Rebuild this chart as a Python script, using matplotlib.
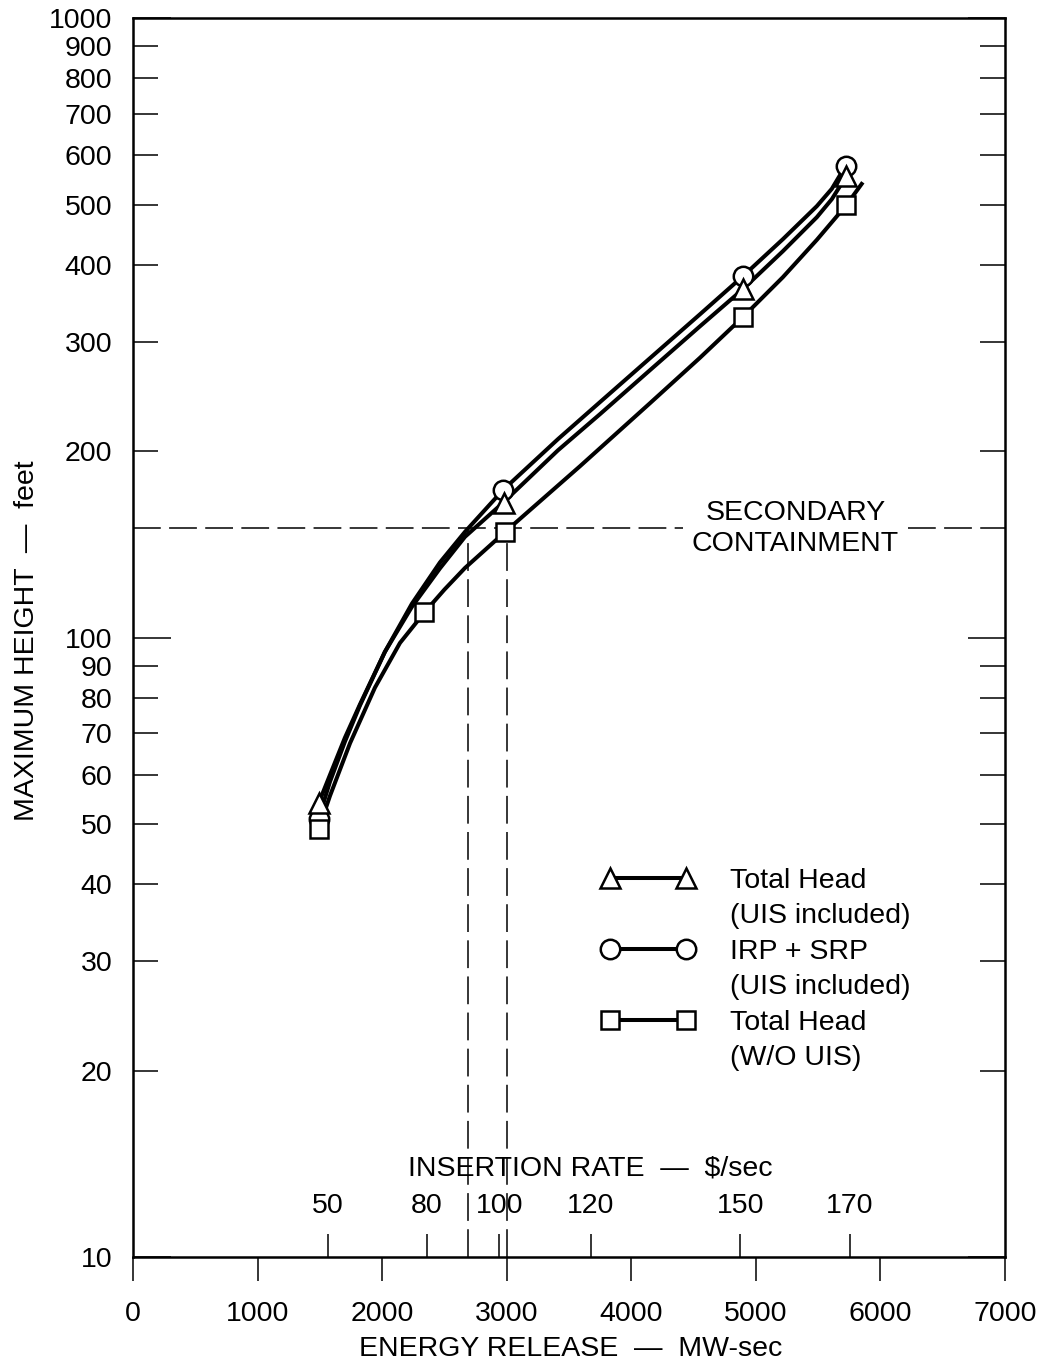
import matplotlib
matplotlib.use('Agg')
import matplotlib.pyplot as plt
from matplotlib.lines import Line2D
from matplotlib.ticker import FixedLocator, FuncFormatter

# ---- data ----
# measured points (energy release MW-sec, max height ft)
tri_x = [1490, 2975, 4900, 5725]
tri_y = [54, 165, 365, 555]
circ_x = [1490, 2970, 4900, 5720]
circ_y = [51, 173, 383, 577]
sq_x = [1490, 2340, 2985, 4900, 5725]
sq_y = [49, 110, 148, 329, 500]

# faired curves through the points
circ_cx = [1490, 1581, 1701, 1822, 2022, 2239, 2464, 2665, 2970, 3411, 3748, 4149,
           4551, 4896, 5217, 5490, 5610, 5720]
circ_cy = [51, 58.5, 67.9, 77.7, 94.8, 113.4, 132.2, 148.1, 173, 209, 239.8, 282.3,
           332.4, 383, 439.5, 497, 530, 577]
tri_cx = [1490, 1581, 1701, 1822, 2022, 2239, 2464, 2665, 2970, 3411, 3748, 4149,
          4551, 4896, 5217, 5490, 5610, 5725]
tri_cy = [54, 60.0, 68.9, 78.0, 94.8, 112.1, 129.3, 145.4, 165, 200.5, 229.3, 270,
          317.9, 365, 420.3, 477, 510, 555]
sq_cx = [1490, 1581, 1742, 1942, 2143, 2343, 2500, 2665, 2986, 3588, 4149, 4551,
         4896, 5217, 5490, 5727, 5859]
sq_cy = [49, 55.5, 67.5, 83.0, 98.0, 110.0, 119.5, 129.5, 148, 189, 238.8, 282.8,
         329, 381.6, 438.5, 499, 543]

# secondary scale: insertion rate ($/sec) vs energy release
ins_energy = [1565, 2357, 2941, 3677, 4875, 5755]
ins_rate = ['50', '80', '100', '120', '150', '170']

# secondary containment line and the two crossing energies
containment_ft = 150
containment_gap = [4414, 6220]
crossing_energy = [2690, 3000]

x_ticks = [0, 1000, 2000, 3000, 4000, 5000, 6000, 7000]
y_major = [10, 100, 1000]
y_minor = [20, 30, 40, 50, 60, 70, 80, 90, 200, 300, 400, 500, 600, 700, 800, 900]

plt.rcParams['font.family'] = ['Liberation Sans', 'DejaVu Sans']
plt.rcParams['lines.scale_dashes'] = False
fs = 20.5

fig = plt.figure(figsize=(10.4, 13.65), dpi=100)
ax = fig.add_axes([0.1279, 0.0791, 0.8384, 0.9077])
ax.set_yscale('log')
ax.set_xlim(0, 7000)
ax.set_ylim(10, 1000)

lw = 2.9
mk = dict(ls='none', mfc='white', mec='k', mew=1.8)
for cx, cy in [(circ_cx, circ_cy), (tri_cx, tri_cy), (sq_cx, sq_cy)]:
    ax.plot(cx, cy, color='k', lw=lw, solid_joinstyle='round',
            solid_capstyle='butt', zorder=3)
ax.plot(circ_x, circ_y, marker='o', ms=14, zorder=4, **mk)
ax.plot(tri_x, tri_y, marker='^', ms=15, zorder=5, **mk)
ax.plot(sq_x, sq_y, marker='s', ms=13, zorder=5, **mk)

# dashed reference lines
dash = dict(color='k', lw=1.1, dashes=(20, 6), zorder=2)
ax.plot([0, containment_gap[0]], [containment_ft, containment_ft], **dash)
ax.plot([containment_gap[1], 7000], [containment_ft, containment_ft], **dash)
for e in crossing_energy:
    ax.plot([e, e], [10, containment_ft], **dash)
ax.text(sum(containment_gap) / 2, containment_ft, 'SECONDARY\nCONTAINMENT',
        ha='center', va='center', fontsize=fs, linespacing=1.25)

# axes styling
for s in ax.spines.values():
    s.set_linewidth(1.8)
ax.set_xticks(x_ticks)
ax.set_xticklabels([str(v) for v in x_ticks])
ax.tick_params(axis='x', direction='out', length=17, width=1.1, pad=15,
               labelsize=fs, top=False)
ax.yaxis.set_major_locator(FixedLocator(y_major))
ax.yaxis.set_minor_locator(FixedLocator(y_minor))
fmt = FuncFormatter(lambda v, _: f'{v:g}')
ax.yaxis.set_major_formatter(fmt)
ax.yaxis.set_minor_formatter(fmt)
ax.tick_params(axis='y', which='both', direction='in', left=True, right=True,
               width=1.1, pad=15, labelsize=fs)
ax.tick_params(axis='y', which='major', length=27)
ax.tick_params(axis='y', which='minor', length=18)

# insertion rate scale, ticks inside along the bottom
ax2 = ax.twiny()
ax2.set_xlim(0, 7000)
ax2.xaxis.set_ticks_position('bottom')
ax2.set_xticks(ins_energy)
ax2.set_xticklabels(ins_rate)
ax2.tick_params(axis='x', direction='in', length=16.5, width=1.1, pad=-46,
                labelsize=fs)
for s in ax2.spines.values():
    s.set_visible(False)

fig.text(590 / 1040, 1 - 1175 / 1365, r'INSERTION RATE  —  \$/sec',
         ha='center', va='baseline', fontsize=fs)
fig.text(571 / 1040, 1 - 1356 / 1365, 'ENERGY RELEASE  —  MW-sec',
         ha='center', va='baseline', fontsize=fs)
fig.text(27 / 1040, 1 - 641 / 1365, 'MAXIMUM HEIGHT  —  feet', rotation=90,
         ha='center', va='center', fontsize=fs)

# legend
handle_kw = dict(color='k', lw=lw, mfc='white', mec='k', mew=1.8)
blank = Line2D([], [], ls='none')
handles = [Line2D([], [], marker='^', ms=15, **handle_kw), blank,
           Line2D([], [], marker='o', ms=14, **handle_kw), blank,
           Line2D([], [], marker='s', ms=13, **handle_kw), blank]
labels = ['Total Head', '(UIS included)', 'IRP + SRP', '(UIS included)',
          'Total Head', '(W/O UIS)']
ax.legend(handles, labels, loc='upper left', bbox_to_anchor=(0.5786, 0.3641),
          bbox_transform=fig.transFigure, frameon=False, numpoints=2,
          handlelength=3.26, handletextpad=1.25, labelspacing=0.33,
          borderpad=0, borderaxespad=0, fontsize=fs)

fig.savefig('out.png', dpi=100)
